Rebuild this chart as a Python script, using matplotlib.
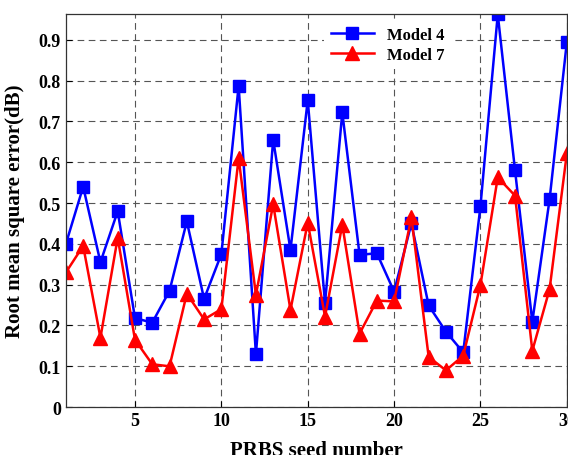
import numpy as np
import matplotlib
matplotlib.use('Agg')
import matplotlib.pyplot as plt

# values
seeds = np.arange(1, 31)
model4 = [0.40, 0.54, 0.355, 0.48, 0.218, 0.207, 0.285, 0.455, 0.265, 0.375,
          0.787, 0.13, 0.655, 0.385, 0.752, 0.255, 0.722, 0.373, 0.377, 0.283,
          0.45, 0.249, 0.185, 0.134, 0.493, 0.962, 0.58, 0.209, 0.509, 0.895]
model7 = [0.33, 0.395, 0.17, 0.415, 0.165, 0.105, 0.10, 0.278, 0.215, 0.24,
          0.61, 0.275, 0.497, 0.238, 0.452, 0.222, 0.447, 0.18, 0.261, 0.259,
          0.465, 0.123, 0.09, 0.126, 0.30, 0.563, 0.518, 0.138, 0.289, 0.622]
xticks = [5, 10, 15, 20, 25, 30]
yticks = [0, 0.1, 0.2, 0.3, 0.4, 0.5, 0.6, 0.7, 0.8, 0.9]

plt.rcParams['font.family'] = ['Liberation Serif', 'DejaVu Serif']
plt.rcParams['font.weight'] = 'bold'

fig = plt.figure(figsize=(5.68, 4.56), dpi=100)
ax = fig.add_axes([0.116, 0.105, 0.882, 0.862])

ax.plot(seeds, model4, color='#0000ff', lw=1.8, marker='s', ms=8.5, label='Model 4')
ax.plot(seeds, model7, color='#ff0000', lw=1.8, marker='^', ms=9.5, label='Model 7')

ax.set_xlim(1, 30)
ax.set_ylim(0, 0.963)
ax.set_xticks(xticks)
ax.set_yticks(yticks)
ax.set_yticklabels(['0'] + ['%.1f' % v for v in yticks[1:]])
ax.tick_params(direction='in', labelsize=13, length=4, width=0.8)
for lab in ax.get_xticklabels() + ax.get_yticklabels():
    lab.set_fontweight('bold')

ax.grid(True, color='#555555', lw=0.8, ls=(0, (6, 4)))
ax.set_axisbelow(True)
for sp in ax.spines.values():
    sp.set_color('#333333')
    sp.set_linewidth(0.9)

ax.set_ylabel('Root mean square error(dB)', fontsize=15, fontweight='bold', labelpad=10)
ax.set_xlabel('PRBS seed number', fontsize=15, fontweight='bold', labelpad=8)

leg = ax.legend(loc='upper left', bbox_to_anchor=(0.515, 0.985), frameon=True,
                fontsize=12, handlelength=2.6, borderaxespad=0, labelspacing=0.25)
leg.get_frame().set_edgecolor('none')
leg.get_frame().set_facecolor('white')
leg.get_frame().set_alpha(1)
for t in leg.get_texts():
    t.set_fontweight('bold')

fig.savefig('out.png', dpi=100)
